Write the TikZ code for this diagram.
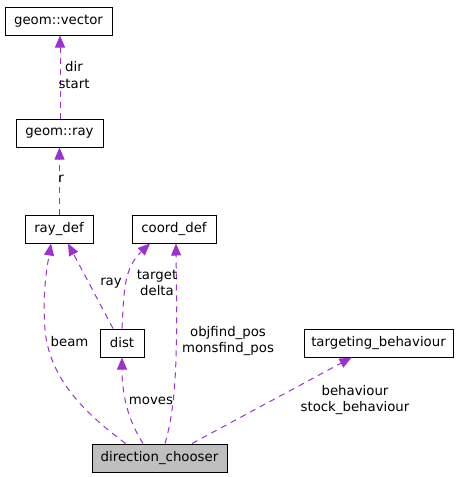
\documentclass[tikz,border=0pt]{standalone}
\usepackage{fontspec}
\setmainfont{DejaVu Sans}
\usetikzlibrary{arrows.meta,calc}
\definecolor{edgepurple}{HTML}{9A32CD}
\definecolor{boxgrey}{HTML}{BFBFBF}
\begin{document}
\begin{tikzpicture}[x=1pt,y=-1pt,
  every node/.style={font=\fontsize{13.3}{16.5}\selectfont},
  cls/.style={draw=black,line width=1pt,fill=white,minimum height=28pt,inner sep=0pt},
  rel/.style={draw=edgepurple,line width=1pt,dash pattern=on 6pt off 5pt,
    -{Triangle[length=12pt,width=10pt,fill=edgepurple]}},
  lbl/.style={align=center,inner sep=0pt}]
\useasboundingbox (0,0) rectangle (459,477);
% classes
\node[cls,minimum width=107pt] (vec) at (58.5,21) {geom::vector};
\node[cls,minimum width=87pt] (ray) at (59.5,133) {geom::ray};
\node[cls,minimum width=68pt] (rdef) at (59,229) {ray\_def};
\node[cls,minimum width=84pt] (cdef) at (174,229) {coord\_def};
\node[cls,minimum width=44pt] (dist) at (122,343) {dist};
\node[cls,minimum width=149pt] (tb) at (378.5,343) {targeting\_behaviour};
\node[cls,minimum width=135pt,fill=boxgrey] (dc) at (159.5,458) {direction\_chooser};
% relations
\draw[rel] ([xshift=0.5pt]ray.north) -- ([xshift=0.5pt]ray.north |- vec.south);
\draw[rel] ([xshift=0.5pt]rdef.north) -- ([xshift=0.5pt]rdef.north |- ray.south);
\draw[rel] ($(dc.north west)+(34,0)$) .. controls (95,420) and (50,385) .. (45,330)
  .. controls (42,290) and (48,262) .. ($(rdef.south)+(-8,0)$);
\draw[rel] ($(dist.north)+(-9,0)$) -- ($(rdef.south)+(9,0)$);
\draw[rel] (dist.north) .. controls (124,290) and (124,268) .. ($(cdef.south)+(-24,0)$);
\draw[rel] ($(dc.north)+(5.5,0)$) .. controls (178,400) and (177,340) .. ($(cdef.south)+(2,0)$);
\draw[rel] ($(dc.north)+(-16.5,0)$) .. controls (128,420) and (122,395) .. (dist.south);
\draw[rel] ($(dc.north)+(32.5,0)$) -- ($(tb.south)+(-27,0)$);
% labels
\node[lbl] (l1) at (74,75) {dir\\start};
\node[lbl] (l2) at (61,179) {r};
\node[lbl] (l3) at (69.5,342) {beam};
\node[lbl] (l4) at (111,283) {ray};
\node[lbl] (l5) at (157,283) {target\\delta};
\node[lbl] (l6) at (228,341) {objfind\_pos\\monsfind\_pos};
\node[lbl] (l7) at (151,401) {moves};
\node[lbl] (l8) at (355,400) {behaviour\\stock\_behaviour};
\end{tikzpicture}
\end{document}
